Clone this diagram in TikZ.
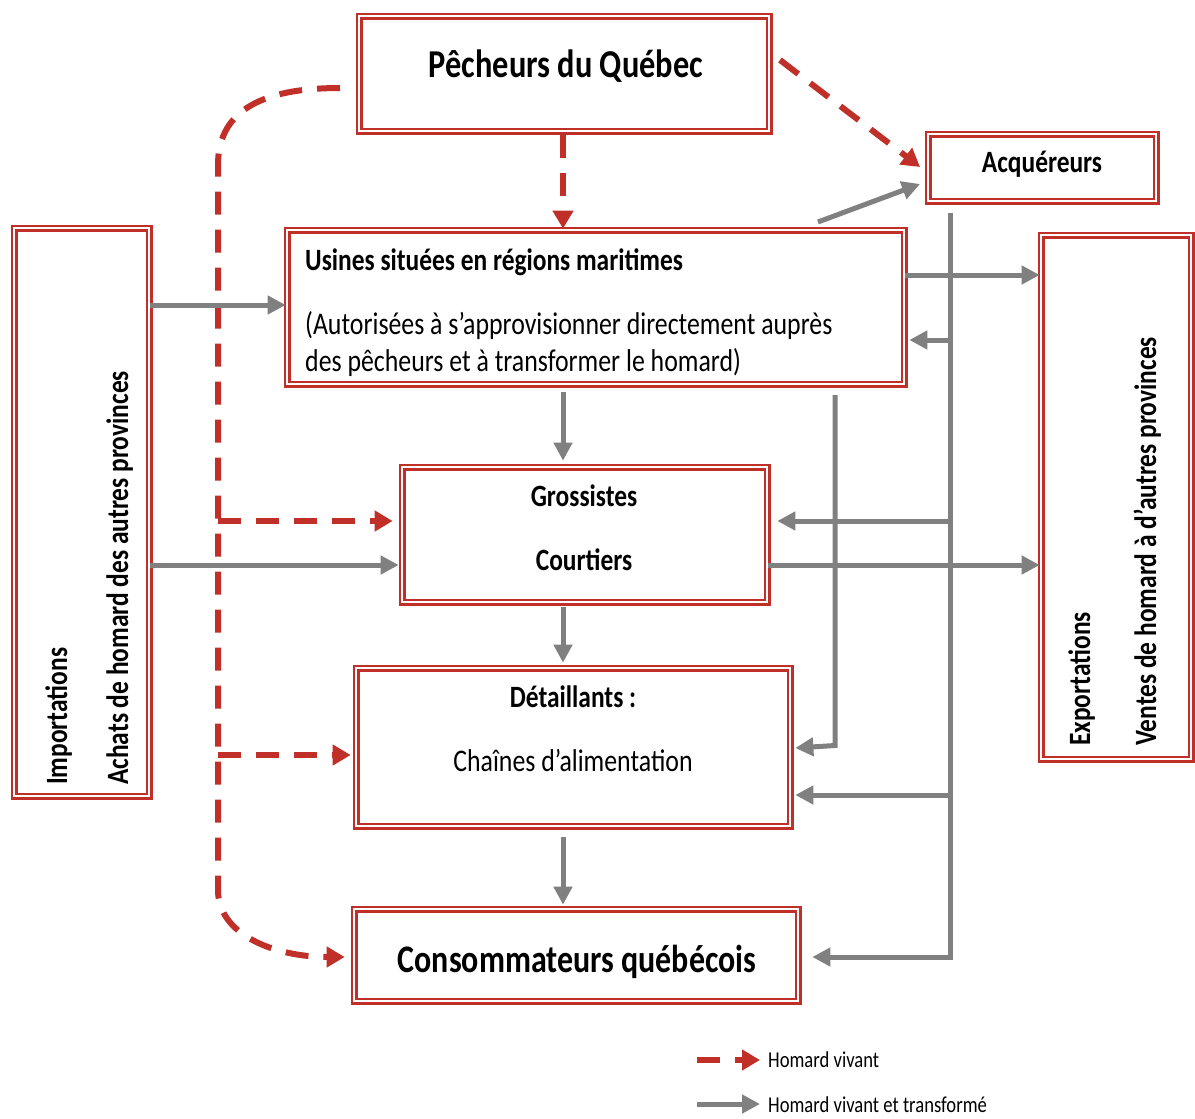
\documentclass[tikz,border=0pt]{standalone}
\usepackage{fontspec}
\setmainfont{Carlito}[FakeStretch=0.82]
\usetikzlibrary{arrows.meta}
\definecolor{myred}{RGB}{192,48,40}
\definecolor{mygray}{RGB}{128,128,128}
\begin{document}
\begin{tikzpicture}[x=1pt,y=-1pt,
  box/.style={draw=myred, line width=2.7pt, double=white, double distance=1.6pt, fill=white, inner sep=0pt},
  tb/.style={font=\bfseries\fontsize{31}{36}\selectfont, inner sep=0pt},
  tr/.style={font=\fontsize{31.5}{37}\selectfont, inner sep=0pt},
  tbig/.style={font=\bfseries\fontsize{39.5}{46}\selectfont, inner sep=0pt},
  tleg/.style={font=\fontsize{22.7}{27}\selectfont, inner sep=0pt},
  live/.style={draw=myred, line width=6pt, dash pattern=on 23pt off 15pt, -{Triangle[length=18pt,width=20pt]}},
  flow/.style={draw=mygray, line width=5pt, -{Triangle[length=18pt,width=18pt]}},
  flowline/.style={draw=mygray, line width=5pt}
]
\useasboundingbox (0,0) rectangle (1195,1119);
\fill[white] (0,0) rectangle (1195,1119);

% boxes
\node[box, minimum width=410pt, minimum height=115pt] (pech) at (564,73.5) {};
\node[box, minimum width=228pt, minimum height=67pt] (acq) at (1042,167.5) {};
\node[box, minimum width=617pt, minimum height=154pt] (usi) at (595.5,307) {};
\node[box, minimum width=135pt, minimum height=568pt] (imp) at (81.5,512) {};
\node[box, minimum width=150pt, minimum height=524pt] (exp) at (1116,497) {};
\node[box, minimum width=365pt, minimum height=135pt] (gro) at (584.5,534.5) {};
\node[box, minimum width=434pt, minimum height=158pt] (det) at (573,747) {};
\node[box, minimum width=444pt, minimum height=92pt] (con) at (576,955) {};

% texts
\node[tbig, anchor=base] (pecht) at (566,77) {Pêcheurs du Québec};
\node[tb, anchor=base] (acqt) at (1042,172) {Acquéreurs};
\node[tb, anchor=base west] (usit1) at (305,270) {Usines situées en régions maritimes};
\node[tr, anchor=base west] (usit2) at (305,334) {(Autorisées à s’approvisionner directement auprès};
\node[tr, anchor=base west] (usit3) at (305,371) {des pêcheurs et à transformer le homard)};
\node[tb, anchor=base] (grot1) at (584,506) {Grossistes};
\node[tb, anchor=base] (grot2) at (584,570) {Courtiers};
\node[tb, anchor=base] (dett1) at (573,707) {Détaillants :};
\node[tr, anchor=base] (dett2) at (573,771) {Chaînes d’alimentation};
\node[tbig, anchor=base, font=\bfseries\fontsize{39}{46}\selectfont] (cont) at (577,972) {Consommateurs québécois};
\node[tb, rotate=90, anchor=base west] (impt1) at (67,785) {Importations};
\node[tb, rotate=90, anchor=base west] (impt2) at (128,785) {Achats de homard des autres provinces};
\node[tb, rotate=90, anchor=base west] (expt1) at (1090,746) {Exportations};
\node[tb, rotate=90, anchor=base west] (expt2) at (1156,746) {Ventes de homard à d’autres provinces};

% junction coordinates
\coordinate (rstart) at (340,88);
\coordinate (rtop) at (218,165);
\coordinate (rbot) at (218,890);
\coordinate (rg) at (218,521);
\coordinate (rd) at (218,755);
\coordinate (vtop) at (950,213);
\coordinate (vbot) at (950,957);
\coordinate (vu) at (950,340);
\coordinate (vg) at (950,521);
\coordinate (vd) at (950,795);
\coordinate (utop) at (835,395);
\coordinate (ucorner) at (835,748);

% red (homard vivant)
\draw[live, shorten <=3pt, shorten >=0pt] (pech.south -| 563,0) -- (usi.north -| 563,0);
\draw[live] (780,60) -- (920,167);
\draw[live] (rstart) .. controls (255,88) and (218,115) .. (rtop) -- (rbot)
   .. controls (218,935) and (275,957) .. ([xshift=-8pt]con.west |- 0,957);
\draw[live] (rg) -- ([xshift=-8pt]gro.west |- rg);
\draw[live] (rd) -- ([xshift=-4pt]det.west |- rd);

% gray (homard vivant et transforme)
\draw[flow] (imp.east |- 0,305) -- (usi.west |- 0,305);
\draw[flow] (imp.east |- 0,565) -- ([xshift=-2pt]gro.west |- 0,565);
\draw[flow] (818,222) -- (920,184);
\draw[flow] (usi.east |- 0,275) -- (exp.west |- 0,275);
\draw[flow] (gro.east |- 0,565) -- (exp.west |- 0,565);
\draw[flowline] (vtop) -- (vbot);
\draw[flow] (vu) -- ([xshift=4pt]usi.east |- vu);
\draw[flow] (vg) -- ([xshift=9pt]gro.east |- vg);
\draw[flow] (vd) -- ([xshift=4pt]det.east |- vd);
\draw[flow] ([xshift=2.5pt]vbot) -- ([xshift=13pt]con.east |- vbot);
\draw[flow] (utop) -- ([yshift=2.5pt]ucorner) -- ([xshift=4pt]det.east |- ucorner);
\draw[flow, shorten <=7pt, shorten >=5pt] (usi.south -| 563,0) -- (gro.north -| 563,0);
\draw[flow, shorten <=4pt, shorten >=4pt] (gro.south -| 563,0) -- (det.north -| 563,0);
\draw[flow, shorten <=10pt, shorten >=3pt] (det.south -| 563,0) -- (con.north -| 563,0);

% legend
\coordinate (l1a) at (697,1060);
\coordinate (l1b) at (760,1060);
\coordinate (l2a) at (697,1104);
\coordinate (l2b) at (760,1104);
\draw[live] (l1a) -- (l1b);
\draw[flow] (l2a) -- (l2b);
\node[tleg, anchor=base west] (leg1) at (768,1067) {Homard vivant};
\node[tleg, anchor=base west] (leg2) at (768,1112) {Homard vivant et transformé};
\end{tikzpicture}
\end{document}
